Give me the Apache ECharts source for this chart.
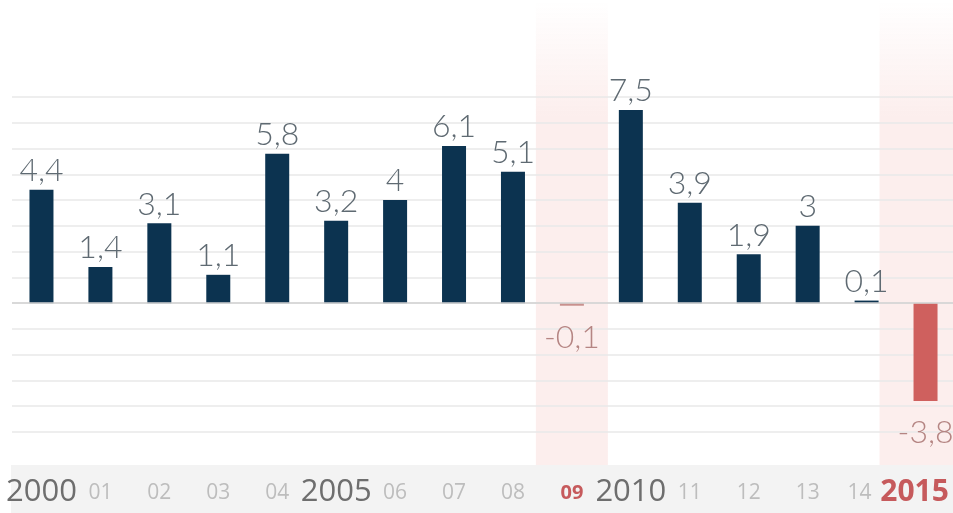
<!DOCTYPE html>
<html>
<head>
<meta charset="utf-8">
<script src="https://cdn.jsdelivr.net/npm/echarts@6/dist/echarts.min.js"></script>
<style>
  html, body { margin: 0; padding: 0; background: #fff; }
  #chart { width: 953px; height: 513px; }
</style>
</head>
<body>
<div id="chart"></div>
<script>
// years and growth values
const years = ['2000', '01', '02', '03', '04', '2005', '06', '07', '08', '09', '2010', '11', '12', '13', '14', '2015']
const growth = [4.4, 1.4, 3.1, 1.1, 5.8, 3.2, 4, 6.1, 5.1, -0.1, 7.5, 3.9, 1.9, 3, 0.1, -3.8]
// highlighted years (pink band behind)
const highlight = ['09', '2015']

const navy = '#0c3350'
const red = '#cf605e'

const chart = echarts.init(document.getElementById('chart'))

function labelStyle(y) {
  if (y === '2015') return 'redBig'
  if (y === '09') return 'red'
  if (y === '14') return 'smallTight'
  if (y.length === 4) return 'big'
  return 'small'
}

const barData = growth.map((v, i) => {
  const hot = highlight.includes(years[i])
  return {
    value: v,
    itemStyle: { color: hot ? (v < -1 ? red : '#c9908e') : navy },
    label: v < 0 ? { position: 'bottom', distance: 16, color: '#b58583' } : {}
  }
})

// one band per highlighted year, each on its own hidden axis so widths can differ
const band09 = years.map(y => y === '09' ? 1 : null)
const band15 = years.map(y => y === '2015' ? 1 : null)

const bandColor = new echarts.graphic.LinearGradient(0, 0, 0, 1, [
  { offset: 0, color: 'rgba(252,238,237,0)' },
  { offset: 0.25, color: 'rgba(252,238,237,1)' },
  { offset: 1, color: 'rgba(252,238,237,1)' }
])

const small = { fontFamily: 'Open Sans', fontSize: 21, color: '#bdbdbd', padding: [6, 0, 0, 0] }

chart.setOption({
  animation: false,
  graphic: [{
    type: 'rect',
    z: -10,
    shape: { x: 11, y: 465, width: 942, height: 48 },
    style: { fill: '#f3f3f3' }
  }],
  grid: [
    { left: 12, width: 943, top: 97, bottom: 81, outerBoundsMode: 'none' },
    { left: 12, width: 943, top: 0, bottom: 48, outerBoundsMode: 'none' }
  ],
  xAxis: [
    {
      type: 'category', gridIndex: 0, data: years,
      axisLine: { show: false }, axisTick: { show: false }, axisLabel: { show: false }
    },
    {
      type: 'category', gridIndex: 1, data: years,
      axisLine: { show: false }, axisTick: { show: false },
      axisLabel: {
        margin: 12,
        interval: 0,
        formatter: v => '{' + labelStyle(v) + '|' + v + '}',
        rich: {
          big: { fontFamily: 'Open Sans', fontSize: 31, color: '#6e6e6e' },
          small: small,
          smallTight: Object.assign({}, small, { padding: [6, 14, 0, 0] }),
          red: { fontFamily: 'Open Sans', fontSize: 20, fontWeight: 'bold', color: '#c65a5c', padding: [6, 0, 0, 0] },
          redBig: { fontFamily: 'Open Sans', fontSize: 30, fontWeight: 'bold', color: '#c65a5c', padding: [0, 22, 0, 0] }
        }
      }
    },
    {
      type: 'category', gridIndex: 1, data: years, show: false
    }
  ],
  yAxis: [
    {
      type: 'value', gridIndex: 0, min: -5, max: 8, interval: 1,
      axisLabel: { show: false }, axisLine: { show: false }, axisTick: { show: false },
      splitLine: { lineStyle: { color: '#e9e9e9', width: 1.5 } }
    },
    {
      type: 'value', gridIndex: 1, min: 0, max: 1,
      show: false
    }
  ],
  series: [
    {
      type: 'bar', xAxisIndex: 1, yAxisIndex: 1, z: -1,
      data: band09, barWidth: 72, silent: true,
      itemStyle: { color: bandColor }
    },
    {
      type: 'bar', xAxisIndex: 2, yAxisIndex: 1, z: -1,
      data: band15, barWidth: 92, silent: true,
      itemStyle: { color: bandColor }
    },
    {
      type: 'bar', xAxisIndex: 0, yAxisIndex: 0,
      data: barData, barWidth: 24,
      label: {
        show: true, position: 'top', distance: 3,
        fontFamily: 'Lato', fontWeight: 300, fontSize: 32, color: '#5f6a72',
        formatter: p => String(p.value).replace('.', ',')
      },
      markLine: {
        silent: true, symbol: 'none', label: { show: false },
        lineStyle: { color: '#d2d2d2', width: 1.5, type: 'solid' },
        data: [{ yAxis: 0 }]
      }
    }
  ]
})
</script>
</body>
</html>
